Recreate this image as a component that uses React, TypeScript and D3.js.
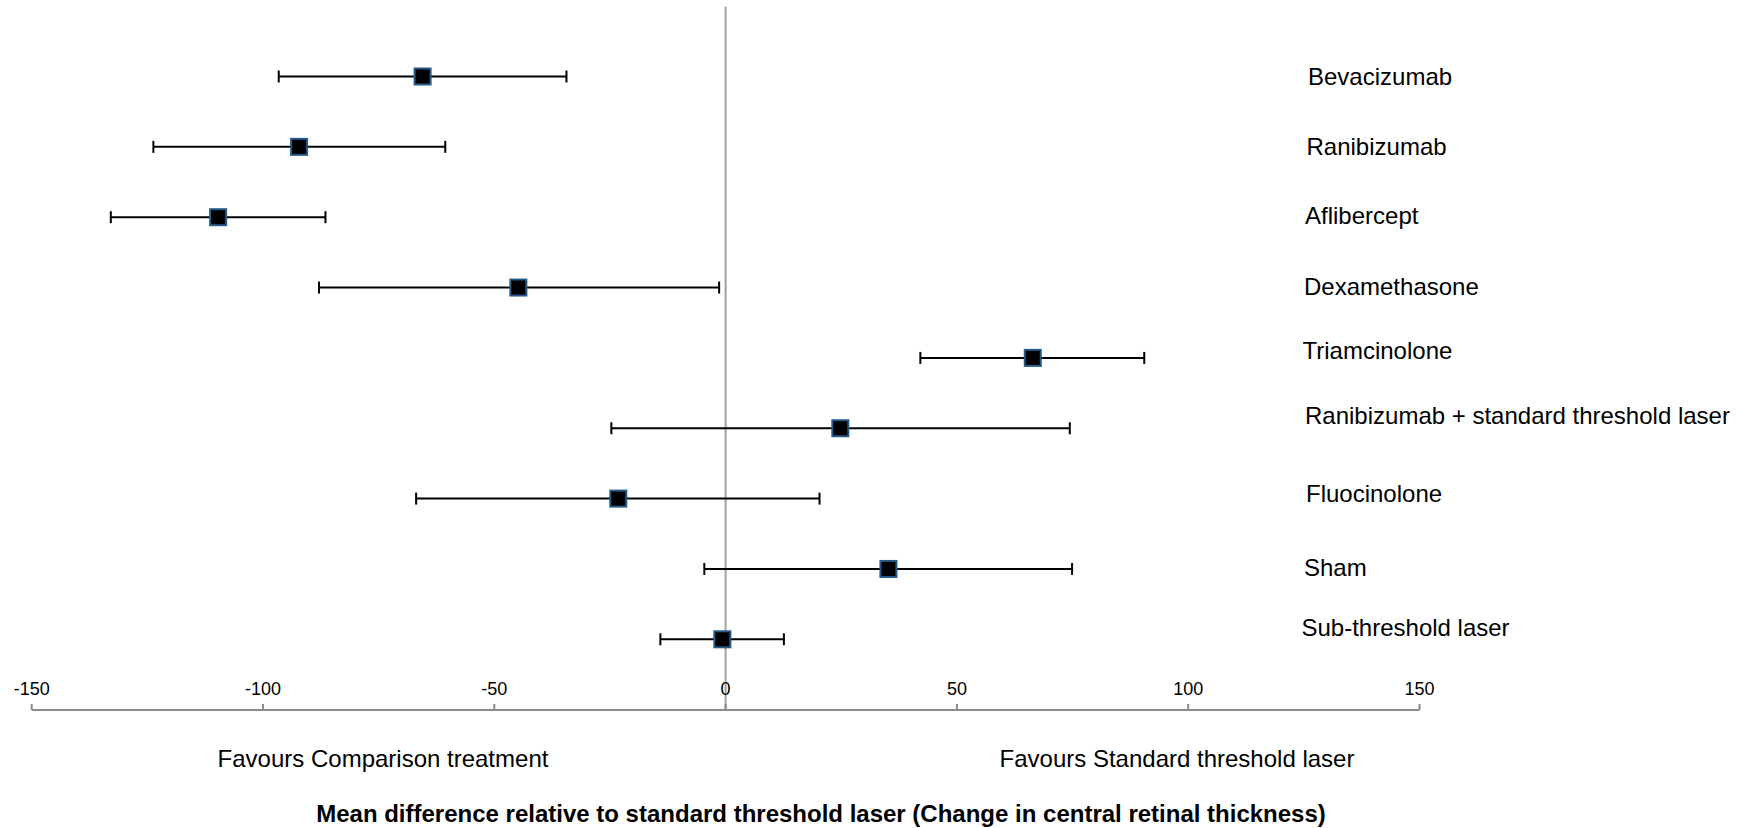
import React from "react";
import * as d3 from "d3";

const treatments = [
  "Bevacizumab",
  "Ranibizumab",
  "Aflibercept",
  "Dexamethasone",
  "Triamcinolone",
  "Ranibizumab + standard threshold laser",
  "Fluocinolone",
  "Sham",
  "Sub-threshold laser",
];
const meanDiff = [-65.5, -92.2, -109.7, -44.8, 66.4, 24.8, -23.2, 35.2, -0.7];
const lowerCI = [-96.6, -123.7, -132.9, -87.9, 42.1, -24.7, -66.9, -4.6, -14.1];
const upperCI = [-34.4, -60.6, -86.5, -1.4, 90.5, 74.4, 20.3, 74.9, 12.6];
const xTicks = [-150, -100, -50, 0, 50, 100, 150];

// layout nudges for the category labels (dx, dy in px)
const labelDx = [3, 1.5, 0, -1, -2.5, 0, 1, -1, -3.5];
const labelDy = [-0.6, -0.6, -1.7, -1, -7.5, -12.6, -5.5, -1.6, -11.5];

const FONT = "Arial, 'Liberation Sans', Helvetica, sans-serif";

export default function App() {
  const W = 1737;
  const H = 828;
  const x = d3.scaleLinear().domain([-150, 150]).range([31.7, 1419.5]);
  const y = d3.scalePoint<string>().domain(treatments).range([76.5, 639.3]);
  const axisY = 710;
  const capH = 6;
  const box = 16;

  return (
    <svg
      width={W}
      height={H}
      style={{ position: "absolute", left: 0, top: 0, display: "block", background: "#fff" }}
    >
      {/* zero reference line */}
      <line x1={x(0)} x2={x(0)} y1={6.7} y2={axisY} stroke="#a0a0a0" strokeWidth={2} />

      {/* x axis */}
      <line x1={x(-150)} x2={x(150)} y1={axisY} y2={axisY} stroke="#8a8a8a" strokeWidth={2} />
      {xTicks.map((t) => (
        <g key={t}>
          <line x1={x(t)} x2={x(t)} y1={axisY - 6} y2={axisY} stroke="#8a8a8a" strokeWidth={2} />
          <text
            x={x(t)}
            y={694.5}
            textAnchor="middle"
            fontFamily={FONT}
            fontSize={18}
            fill="#000"
          >
            {t}
          </text>
        </g>
      ))}

      {/* error bars and markers */}
      {treatments.map((name, i) => {
        const cy = y(name)!;
        return (
          <g key={name}>
            <line x1={x(lowerCI[i])} x2={x(upperCI[i])} y1={cy} y2={cy} stroke="#000" strokeWidth={2} />
            <line x1={x(lowerCI[i])} x2={x(lowerCI[i])} y1={cy - capH} y2={cy + capH} stroke="#000" strokeWidth={2} />
            <line x1={x(upperCI[i])} x2={x(upperCI[i])} y1={cy - capH} y2={cy + capH} stroke="#000" strokeWidth={2} />
            <rect
              x={x(meanDiff[i]) - box / 2}
              y={cy - box / 2}
              width={box}
              height={box}
              fill="#000"
              stroke="#24598a"
              strokeWidth={2}
            />
          </g>
        );
      })}

      {/* category labels */}
      {treatments.map((name, i) => (
        <text
          key={name}
          x={1305 + labelDx[i]}
          y={y(name)! + labelDy[i] + 8.6}
          fontFamily={FONT}
          fontSize={24}
          fill="#000"
        >
          {name}
        </text>
      ))}

      {/* favours labels */}
      <text x={383} y={766.6} textAnchor="middle" fontFamily={FONT} fontSize={24} fill="#000">
        Favours Comparison treatment
      </text>
      <text x={1177} y={766.6} textAnchor="middle" fontFamily={FONT} fontSize={24} fill="#000">
        Favours Standard threshold laser
      </text>

      {/* axis title */}
      <text
        x={821}
        y={821.5}
        textAnchor="middle"
        fontFamily={FONT}
        fontSize={24}
        fontWeight="bold"
        fill="#000"
      >
        Mean difference relative to standard threshold laser (Change in central retinal thickness)
      </text>
    </svg>
  );
}
